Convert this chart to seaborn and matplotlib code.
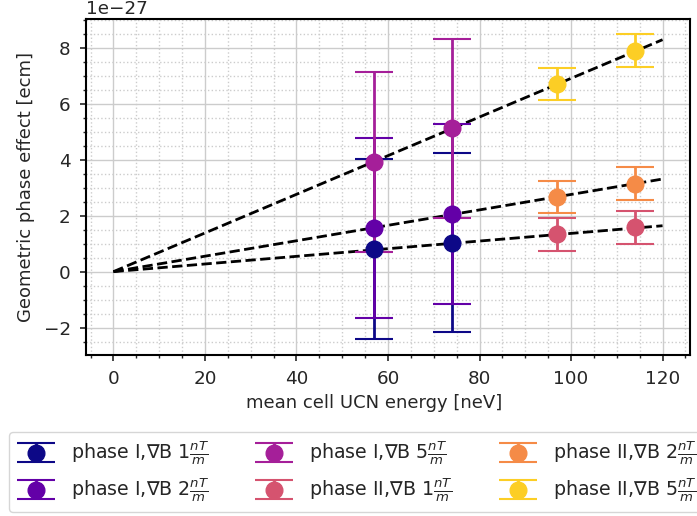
import numpy as np
import pandas as pd
import matplotlib
matplotlib.use("Agg")
import matplotlib.pyplot as plt
import seaborn as sns
from matplotlib.ticker import AutoMinorLocator

# data (values in units of 1e-27 ecm)
labels = [r"phase I,$\nabla$B 1$\frac{nT}{m}$",
          r"phase I,$\nabla$B 2$\frac{nT}{m}$",
          r"phase I,$\nabla$B 5$\frac{nT}{m}$",
          r"phase II,$\nabla$B 1$\frac{nT}{m}$",
          r"phase II,$\nabla$B 2$\frac{nT}{m}$",
          r"phase II,$\nabla$B 5$\frac{nT}{m}$"]
phase1_x = [57, 74]
phase2_x = [97, 114]
p1_1 = [0.80, 1.04]
p1_2 = [1.56, 2.06]
p1_5 = [3.92, 5.12]
p2_1 = [1.33, 1.58]
p2_2 = [2.66, 3.15]
p2_5 = [6.70, 7.89]
p1_err = [3.22, 3.20]
p2_err = [0.58, 0.59]
fit_x = [0, 120]
fit_1 = [0, 1.64]
fit_2 = [0, 3.31]
fit_5 = [0, 8.29]

series = [(phase1_x, p1_1, p1_err), (phase1_x, p1_2, p1_err), (phase1_x, p1_5, p1_err),
          (phase2_x, p2_1, p2_err), (phase2_x, p2_2, p2_err), (phase2_x, p2_5, p2_err)]

sns.set_style("ticks")
plt.rcParams['font.family'] = ['DejaVu Sans']
plt.rcParams['mathtext.fontset'] = 'dejavusans'
colors = plt.cm.plasma(np.linspace(0, 0.9, 6))

fig = plt.figure(figsize=(6.97, 5.16), dpi=100)
ax = fig.add_axes([86/697, 1-355/516, (690-86)/697, (355-19)/516])

fits = pd.DataFrame({"x": fit_x * 3,
                     "y": fit_1 + fit_2 + fit_5,
                     "g": ["1"] * 2 + ["2"] * 2 + ["5"] * 2})
sns.lineplot(data=fits, x="x", y="y", units="g", estimator=None, color="black",
             linestyle="--", linewidth=2, ax=ax, zorder=2, legend=False)

for (xs, ys, es), c, lab in zip(series, colors, labels):
    ax.errorbar(np.array(xs), np.array(ys), yerr=es, fmt="o", color=c,
                markersize=12, capsize=14, elinewidth=2, capthick=1.5, label=lab, zorder=3)

ax.set_ylim(-2.98, 9.03)
ax.set_xlim(-6, 126)
ax.text(0, 1.003, "1e\u221227", transform=ax.transAxes, fontsize=13.2, va="bottom", ha="left")
ax.set_xlabel("mean cell UCN energy [neV]", fontsize=13)
ax.xaxis.set_label_coords((374 - 86) / 604, -0.115)
ax.set_ylabel("Geometric phase effect [ecm]", fontsize=13, labelpad=6)
ax.tick_params(labelsize=13.2, pad=6.5, length=4.5, width=1.2)
ax.tick_params(which="minor", length=2.5, width=1)
ax.xaxis.set_minor_locator(AutoMinorLocator())
ax.yaxis.set_minor_locator(AutoMinorLocator())
ax.grid(which="major", color="#cccccc", linewidth=1)
ax.grid(which="minor", color="#cccccc", linestyle=":", linewidth=1)
for s in ax.spines.values():
    s.set_linewidth(1.5)
    s.set_color("black")
ax.set_axisbelow(True)

leg = ax.legend(loc="upper left", bbox_to_anchor=(-0.1275, -0.229), ncol=3, fontsize=13.7,
                frameon=True, columnspacing=2.4, handletextpad=0.85, borderaxespad=0,
                handlelength=2.0, labelspacing=0.5)
leg.get_frame().set_edgecolor("#cccccc")
fig.savefig("out.png", dpi=100)
